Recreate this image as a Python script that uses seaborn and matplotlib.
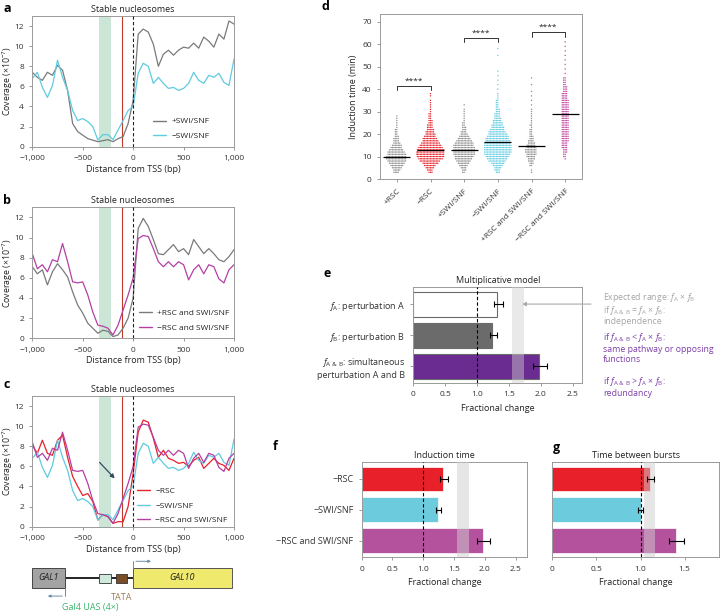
import numpy as np
import pandas as pd
import matplotlib
matplotlib.use("Agg")
import matplotlib.pyplot as plt
import seaborn as sns
from matplotlib.patches import Rectangle
from matplotlib.mathtext import MathTextParser

# ---------------- data ----------------
tss_pos = [-1000, -950, -900, -850, -800, -750, -700, -650, -600, -550,
           -500, -450, -400, -350, -300, -250, -200, -150, -100, -50,
           0, 50, 100, 150, 200, 250, 300, 350, 400, 450,
           500, 550, 600, 650, 700, 750, 800, 850, 900, 950, 1000]

cov_plus_swi = [7.4, 6.9, 6.6, 7.4, 7.1, 8.1, 7.6, 5.6, 2.3, 1.5,
                1.15, 0.8, 0.65, 0.5, 0.6, 0.7, 0.5, 0.8, 1.0, 2.3,
                4.6, 11.2, 11.7, 11.4, 10.2, 8.0, 9.2, 9.6, 9.1, 9.6,
                9.9, 9.8, 10.3, 9.8, 10.9, 10.5, 9.9, 11.2, 10.7, 12.5, 12.2]
cov_minus_swi = [6.8, 7.4, 5.9, 4.9, 6.1, 8.6, 6.9, 5.6, 3.6, 2.6,
                 2.8, 2.5, 2.0, 0.66, 1.2, 1.2, 0.7, 1.65, 2.6, 3.6,
                 4.0, 7.3, 8.3, 8.0, 6.3, 6.9, 6.3, 5.8, 5.9, 5.6,
                 5.8, 6.3, 7.4, 6.6, 6.3, 7.1, 6.9, 7.3, 6.4, 6.1, 8.7]
cov_plus_both = [7.1, 6.4, 6.8, 5.3, 6.6, 7.4, 6.8, 6.1, 4.6, 3.3,
                 2.5, 1.5, 1.0, 0.5, 0.8, 0.7, 0.17, 0.33, 1.0, 2.0,
                 4.0, 10.9, 11.9, 11.1, 9.8, 8.4, 8.3, 8.8, 9.3, 8.6,
                 8.9, 8.3, 9.8, 9.1, 8.4, 8.9, 8.4, 7.8, 7.6, 8.1, 8.8]
cov_minus_both = [8.4, 6.9, 7.3, 6.6, 7.8, 7.6, 9.4, 7.6, 5.6, 5.5,
                  5.6, 4.3, 2.6, 1.3, 1.2, 1.0, 0.33, 1.3, 2.8, 4.3,
                  6.0, 9.9, 10.2, 10.1, 8.9, 7.6, 7.1, 7.6, 7.1, 7.6,
                  7.3, 5.8, 6.8, 7.3, 6.4, 7.3, 7.1, 5.9, 5.5, 6.8, 7.3]
cov_minus_rsc = [8.1, 7.3, 8.6, 7.3, 7.1, 8.6, 9.1, 6.9, 5.0, 4.0,
                 3.1, 3.3, 2.5, 0.66, 1.2, 1.0, 0.33, 0.5, 0.5, 2.0,
                 5.3, 9.4, 10.6, 10.4, 8.8, 6.9, 7.6, 6.8, 6.6, 6.3,
                 6.4, 6.0, 6.6, 6.9, 5.8, 6.3, 6.8, 6.3, 6.1, 5.6, 6.8]

uas_span = [-336, -220]
rsc_mark = -114

# induction time (min) -> number of cells
ind_groups = ["+RSC", "\u2212RSC", "+SWI/SNF", "\u2212SWI/SNF",
              "+RSC and SWI/SNF", "\u2212RSC and SWI/SNF"]
ind_plus_rsc = {3: 4, 4: 5, 5: 7, 6: 9, 7: 11, 8: 13, 9: 14, 10: 14, 11: 13, 12: 12,
                13: 10, 14: 8, 15: 7, 16: 5, 17: 4, 18: 4, 19: 3, 20: 2, 21: 2, 22: 2,
                23: 1, 24: 1, 25: 1, 26: 1, 27: 1, 28: 1}
ind_minus_rsc = {3: 3, 4: 4, 5: 6, 6: 8, 7: 11, 8: 14, 9: 17, 10: 19, 11: 20, 12: 20,
                 13: 19, 14: 17, 15: 15, 16: 13, 17: 11, 18: 10, 19: 8, 20: 7, 21: 6,
                 22: 5, 23: 4, 24: 4, 25: 3, 26: 3, 27: 2, 28: 2, 29: 2, 30: 1, 31: 1,
                 32: 1, 33: 1, 34: 1, 35: 1, 37: 1, 38: 1}
ind_plus_swi = {3: 2, 4: 3, 5: 4, 6: 6, 7: 8, 8: 10, 9: 12, 10: 13, 11: 15, 12: 15,
                13: 15, 14: 15, 15: 14, 16: 13, 17: 11, 18: 9, 19: 7, 20: 5, 21: 4,
                22: 3, 23: 3, 24: 2, 25: 2, 26: 1, 27: 1, 28: 1, 29: 1, 30: 1, 31: 1, 33: 1}
ind_minus_swi = {3: 3, 4: 4, 5: 5, 6: 7, 7: 9, 8: 12, 9: 14, 10: 16, 11: 18, 12: 19,
                 13: 19, 14: 19, 15: 19, 16: 18, 17: 17, 18: 16, 19: 15, 20: 13, 21: 12,
                 22: 10, 23: 9, 24: 8, 25: 7, 26: 6, 27: 5, 28: 4, 29: 4, 30: 3, 31: 3,
                 32: 2, 33: 2, 34: 2, 35: 2, 36: 1, 37: 1, 38: 1, 40: 1, 42: 1, 44: 1,
                 46: 1, 48: 1, 55: 1, 58: 1}
ind_plus_both = {3: 1, 4: 1, 6: 2, 7: 3, 8: 4, 9: 5, 10: 6, 11: 7, 12: 8, 13: 8,
                 14: 7, 15: 6, 16: 5, 17: 4, 18: 3, 19: 3, 20: 2, 21: 2, 22: 2, 23: 1,
                 24: 2, 25: 1, 26: 1, 27: 1, 28: 1, 29: 1, 30: 1, 31: 1, 33: 1, 35: 1,
                 37: 1, 39: 1, 42: 1, 45: 1}
ind_minus_both = {9: 1, 10: 2, 11: 2, 12: 3, 13: 3, 14: 4, 15: 4, 16: 4, 17: 5, 18: 5,
                  19: 5, 20: 5, 21: 5, 22: 5, 23: 5, 24: 5, 25: 5, 26: 5, 27: 5, 28: 5,
                  29: 5, 30: 5, 31: 5, 32: 5, 33: 5, 34: 5, 35: 5, 36: 4, 37: 4, 38: 4,
                  39: 3, 40: 3, 41: 3, 42: 2, 43: 2, 44: 2, 45: 2, 47: 1, 49: 1, 51: 1,
                  53: 1, 55: 1, 57: 1, 59: 1, 61: 1}
ind_center = [10, 13, 13, 16.3, 14.8, 28.8]
sig_pairs = [(0, 1), (2, 3), (4, 5)]
sig_y = [41.4, 62.9, 65.3]


def first_ok(cands):
    parser = MathTextParser("path")
    for s in cands:
        try:
            parser.parse(s)
            return s
        except Exception:
            pass
    return cands[-1]


FAB = first_ok([r"$f_{\mathrm{A\ &\ B}}$", r"$f_{\mathrm{A}\ &\ \mathrm{B}}$",
                r"$f_{\rm A\ \&\ B}$", r"$f_{\mathrm{A\ \ B}}$"])
FA = r"$f_\mathrm{A}$"
FB = r"$f_\mathrm{B}$"

model_labels = [FA + ": perturbation A", FB + ": perturbation B",
                FAB + ": simultaneous\nperturbation A and B"]
model_vals = [1.32, 1.24, 1.97]
model_lo = [1.26, 1.21, 1.88]
model_hi = [1.40, 1.31, 2.09]
model_range = [1.54, 1.74]

pert_labels = ["\u2212RSC", "\u2212SWI/SNF", "\u2212RSC and SWI/SNF"]
induct_vals = [1.32, 1.24, 1.97]
induct_lo = [1.27, 1.20, 1.88]
induct_hi = [1.40, 1.29, 2.08]
induct_range = [1.55, 1.75]
burst_vals = [1.11, 1.00, 1.40]
burst_lo = [1.07, 0.97, 1.32]
burst_hi = [1.15, 1.03, 1.49]
burst_range = [1.04, 1.17]

# schematic features (bp)
gal1_box = [-1000, -676]
gal10_box = [0, 980]
tata_box = [-170, -61]

# ---------------- style ----------------
sns.set_style("ticks")
plt.rcParams["font.family"] = ["Open Sans", "DejaVu Sans"]
plt.rcParams["mathtext.fontset"] = "custom"
plt.rcParams["mathtext.rm"] = "Open Sans"
plt.rcParams["mathtext.it"] = "Open Sans:italic"
plt.rcParams["axes.edgecolor"] = "#9a9a9a"
plt.rcParams["axes.linewidth"] = 0.7
plt.rcParams["xtick.color"] = "#8a8a8a"
plt.rcParams["ytick.color"] = "#8a8a8a"
plt.rcParams["xtick.labelcolor"] = "#333333"
plt.rcParams["ytick.labelcolor"] = "#333333"
plt.rcParams["xtick.major.size"] = 2.5
plt.rcParams["ytick.major.size"] = 2.5
plt.rcParams["xtick.major.width"] = 0.6
plt.rcParams["ytick.major.width"] = 0.6
plt.rcParams["xtick.labelsize"] = 6
plt.rcParams["ytick.labelsize"] = 6
plt.rcParams["axes.labelsize"] = 6.5
plt.rcParams["axes.titlesize"] = 6.5
plt.rcParams["text.color"] = "#222222"
plt.rcParams["axes.labelcolor"] = "#222222"

W, H = 721, 611
fig = plt.figure(figsize=(W / 100, H / 100), dpi=100)


def rect(l, t, r, b):
    return [l / W, 1 - b / H, (r - l) / W, (b - t) / H]


GRAY = "#7a7a7a"
CYAN = "#5ecbe0"
MAGENTA = "#b53fa3"
RED = "#e8202a"
SHADE = "#a9d4bc"

# ---------------- panels a-c ----------------
profile_sets = [
    [("+SWI/SNF", cov_plus_swi, GRAY), ("\u2212SWI/SNF", cov_minus_swi, CYAN)],
    [("+RSC and SWI/SNF", cov_plus_both, GRAY), ("\u2212RSC and SWI/SNF", cov_minus_both, MAGENTA)],
    [("\u2212RSC", cov_minus_rsc, RED), ("\u2212SWI/SNF", cov_minus_swi, CYAN),
     ("\u2212RSC and SWI/SNF", cov_minus_both, MAGENTA)],
]
profile_tops = [16, 207.3, 396]
profile_bots = [146.7, 338.3, 526.7]
legend_anchor = [(0.59, 0.235), (0.52, 0.235), (0.51, 0.315)]

for k, traces in enumerate(profile_sets):
    ax = fig.add_axes(rect(32.3, profile_tops[k], 234, profile_bots[k]))
    ax.axvspan(uas_span[0], uas_span[1], color=SHADE, alpha=0.6, lw=0, zorder=0)
    for name, vals, col in traces:
        sns.lineplot(x=tss_pos, y=vals, ax=ax, color=col, lw=0.9, label=name)
    ax.axvline(rsc_mark, color="#c0392b", lw=0.8, zorder=1)
    ax.axvline(0, color="#222222", lw=0.8, ls=(0, (3, 2)), zorder=3)
    ax.set_xlim(-1000, 1000)
    ax.set_ylim(0, 13)
    ax.set_yticks([0, 2, 4, 6, 8, 10, 12])
    ax.set_xticks([-1000, -500, 0, 500, 1000])
    ax.set_xticklabels(["\u22121,000", "\u2212500", "0", "500", "1,000"])
    ax.set_xlabel("Distance from TSS (bp)", labelpad=2)
    ax.set_ylabel(r"Coverage ($\times$10$^{-7}$)", fontsize=6.3)
    ax.yaxis.set_label_coords(-0.085, 0.5)
    ax.set_title("Stable nucleosomes", pad=3)
    leg = ax.legend(loc="upper left", bbox_to_anchor=legend_anchor[k], fontsize=6,
                    handlelength=1.6, handletextpad=0.6, labelspacing=0.8,
                    borderpad=0.2, borderaxespad=0, frameon=True)
    leg.get_frame().set_facecolor("white")
    leg.get_frame().set_edgecolor("none")
    leg.get_frame().set_alpha(1)
    for line in leg.get_lines():
        line.set_linewidth(1.0)

# arrow in c
ax.annotate("", xy=(-164, 4.6), xytext=(-352, 6.6),
            arrowprops=dict(arrowstyle="-|>", color="#34495e", lw=0.9, mutation_scale=6))

# ---------------- gene schematic ----------------
axg = fig.add_axes(rect(32.3, 540, 234, 611))
axg.set_xlim(-1000, 1000)
axg.set_ylim(0, 1)
axg.axis("off")
axg.plot([gal1_box[1], gal10_box[0]], [0.46, 0.46], color="black", lw=1.2, zorder=1)
axg.add_patch(Rectangle((gal1_box[0], 0.32), gal1_box[1] - gal1_box[0], 0.29,
                        fc="#a3a3a3", ec="#444444", lw=0.7, zorder=2))
axg.add_patch(Rectangle((gal10_box[0], 0.32), gal10_box[1] - gal10_box[0], 0.29,
                        fc="#efe96e", ec="#555555", lw=0.7, zorder=2))
axg.add_patch(Rectangle((uas_span[0], 0.39), uas_span[1] - uas_span[0], 0.13,
                        fc="#cfeadc", ec="#333333", lw=0.6, zorder=2))
axg.add_patch(Rectangle((tata_box[0], 0.39), tata_box[1] - tata_box[0], 0.13,
                        fc="#7a4e27", ec="#333333", lw=0.6, zorder=2))
axg.text(sum(gal1_box) / 2, 0.465, "GAL1", style="italic", fontsize=6.5, ha="center", va="center")
axg.text(sum(gal10_box) / 2, 0.465, "GAL10", style="italic", fontsize=6.5, ha="center", va="center")
axg.annotate("", xy=(205, 0.70), xytext=(gal10_box[0], 0.70),
             arrowprops=dict(arrowstyle="-|>", color="#6c8ea3", lw=0.7, mutation_scale=4))
axg.plot([gal10_box[0], gal10_box[0]], [0.61, 0.70], color="#6c8ea3", lw=0.7)
axg.annotate("", xy=(-874, 0.21), xytext=(gal1_box[1], 0.21),
             arrowprops=dict(arrowstyle="-|>", color="#6c8ea3", lw=0.7, mutation_scale=4))
axg.plot([gal1_box[1], gal1_box[1]], [0.32, 0.21], color="#6c8ea3", lw=0.7)
axg.text(-115, 0.19, "TATA", color="#a07a55", fontsize=6.5, ha="center", va="center")
axg.text(-430, 0.05, "Gal4 UAS (4\u00d7)", color="#3bb36b", fontsize=6.5, ha="center", va="center")

# ---------------- panel d ----------------
ind_dicts = [ind_plus_rsc, ind_minus_rsc, ind_plus_swi, ind_minus_swi, ind_plus_both, ind_minus_both]
rows = []
for g, d in zip(ind_groups, ind_dicts):
    for t, n in d.items():
        rows += [(g, t)] * n
ind_df = pd.DataFrame(rows, columns=["group", "time"])
ind_pal = dict(zip(ind_groups, ["#8c8c8c", RED, "#8c8c8c", CYAN, "#8c8c8c", "#c2479f"]))

axd = fig.add_axes(rect(380, 14.3, 582, 179))
sns.swarmplot(data=ind_df, x="group", y="time", hue="group", palette=ind_pal,
              order=ind_groups, size=1.0, ax=axd, legend=False, linewidth=0)
for i, c in enumerate(ind_center):
    axd.hlines(c, i - 0.4, i + 0.4, color="black", lw=0.9, zorder=5)
for (i, j), yb in zip(sig_pairs, sig_y):
    axd.plot([i, i, j, j], [yb - 2, yb, yb, yb - 2], color="#333333", lw=0.7)
    axd.text((i + j) / 2, yb + 0.6, "****", ha="center", va="bottom", fontsize=6)
axd.set_xlim(-0.5, 5.5)
axd.set_ylim(0, 73.3)
axd.set_yticks(range(0, 71, 10))
axd.set_xlabel("")
axd.set_ylabel("Induction time (min)", labelpad=3)
axd.set_xticks(range(6))
axd.set_xticklabels(ind_groups, rotation=45, ha="right", rotation_mode="anchor")

# ---------------- panel e ----------------
axe = fig.add_axes(rect(413.3, 287.3, 582.3, 383))
sns.barplot(x=model_vals, y=model_labels, hue=model_labels, ax=axe, legend=False,
            palette=["white", "#6b6b6b", "#6a2c91"], width=0.8, saturation=1)
for p in axe.patches:
    p.set_edgecolor("#6b6b6b")
    p.set_linewidth(0.8)
axe.axvspan(model_range[0], model_range[1], color="#cfcfcf", alpha=0.45, lw=0, zorder=4)
axe.axvline(1.0, color="black", lw=0.8, ls=(0, (3, 2)), zorder=5)
axe.errorbar(model_vals, range(3),
             xerr=[np.subtract(model_vals, model_lo), np.subtract(model_hi, model_vals)],
             fmt="none", ecolor="black", elinewidth=0.8, capsize=2, capthick=0.8, zorder=6)
axe.set_xlim(0, 2.65)
axe.set_xticks([0, 0.5, 1.0, 1.5, 2.0, 2.5])
axe.set_xticklabels(["0", "0.5", "1.0", "1.5", "2.0", "2.5"])
axe.tick_params(axis="y", labelsize=6.5)
axe.set_xlabel("Fractional change", labelpad=4)
axe.set_ylabel("")
axe.set_title("Multiplicative model", pad=3)
axe.annotate("", xy=(1.66, 0), xytext=(2.83, 0), annotation_clip=False,
             arrowprops=dict(arrowstyle="-|>", color="#aaaaaa", lw=0.8, mutation_scale=6))

tx = 603 / W
NOTE = 6.3
fig.text(tx, 1 - 297.5 / H, "Expected range: " + FA + " \u00d7 " + FB, color="#a5a5a5", fontsize=NOTE, va="center")
fig.text(tx, 1 - 310.5 / H, "if " + FAB + " = " + FA + " \u00d7 " + FB + ":", color="#a5a5a5", fontsize=NOTE, va="center")
fig.text(tx, 1 - 321.5 / H, "independence", color="#a5a5a5", fontsize=NOTE, va="center")
fig.text(tx, 1 - 337 / H, "if " + FAB + " < " + FA + " \u00d7 " + FB + ":", color="#7d3fa8", fontsize=NOTE, va="center")
fig.text(tx, 1 - 349 / H, "same pathway or opposing", color="#7d3fa8", fontsize=NOTE, va="center")
fig.text(tx, 1 - 359 / H, "functions", color="#7d3fa8", fontsize=NOTE, va="center")
fig.text(tx, 1 - 381 / H, "if " + FAB + " > " + FA + " \u00d7 " + FB + ":", color="#7d3fa8", fontsize=NOTE, va="center")
fig.text(tx, 1 - 393 / H, "redundancy", color="#7d3fa8", fontsize=NOTE, va="center")

# ---------------- panels f, g ----------------
pert_pal = [RED, "#6ccbdc", "#b5529e"]
fg_specs = [
    (rect(361.7, 462.3, 527.3, 557.3), induct_vals, induct_lo, induct_hi, induct_range,
     "Induction time", 2.69, [0, 0.5, 1.0, 1.5, 2.0, 2.5]),
    (rect(552.3, 462.3, 719, 557.3), burst_vals, burst_lo, burst_hi, burst_range,
     "Time between bursts", 1.89, [0, 0.5, 1.0, 1.5]),
]
for k, (r, vals, lo, hi, rng, title, xmax, ticks) in enumerate(fg_specs):
    ax = fig.add_axes(r)
    sns.barplot(x=vals, y=pert_labels, hue=pert_labels, palette=pert_pal, ax=ax,
                legend=False, width=0.8, saturation=1)
    for p in ax.patches:
        p.set_edgecolor("white")
        p.set_linewidth(0.5)
    ax.axvspan(rng[0], rng[1], color="#cfcfcf", alpha=0.5, lw=0, zorder=4)
    ax.axvline(1.0, color="black", lw=0.8, ls=(0, (3, 2)), zorder=5)
    ax.errorbar(vals, range(3), xerr=[np.subtract(vals, lo), np.subtract(hi, vals)],
                fmt="none", ecolor="black", elinewidth=0.8, capsize=2, capthick=0.8, zorder=6)
    ax.set_xlim(0, xmax)
    ax.set_xticks(ticks)
    ax.set_xticklabels(["0"] + [f"{t:.1f}" for t in ticks[1:]])
    ax.set_xlabel("Fractional change", labelpad=4)
    ax.set_ylabel("")
    ax.set_title(title, pad=3)
    ax.tick_params(axis="y", labelsize=6.5)
    if k == 1:
        ax.set_yticks([])

# ---------------- panel letters ----------------
for lab, (px, py) in zip("abcdefg", [(3, 8), (3, 200), (3, 385), (322, 6), (323, 274), (273, 446), (553, 447)]):
    fig.text(px / W, 1 - py / H, lab, fontsize=9, fontweight="bold", va="center", color="black")

fig.savefig("out.png", dpi=100)
